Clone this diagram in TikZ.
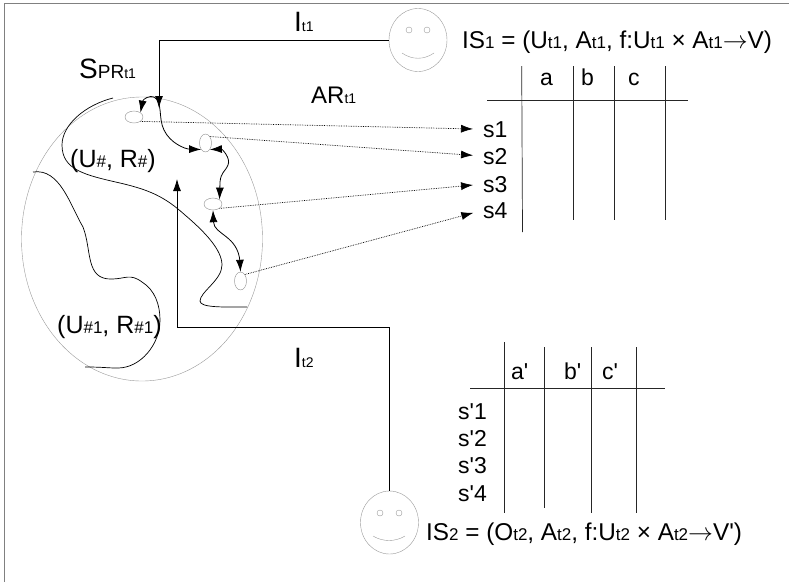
\documentclass[tikz,border=0pt]{standalone}
\usepackage{fontspec}
\setmainfont{Liberation Sans}
\usetikzlibrary{arrows.meta,shapes.geometric}
\newcommand{\fs}[1]{\fontsize{#1}{#1}\selectfont}
\newcommand{\sm}[1]{{\fs{17}#1}}
\newcommand{\smr}[1]{{\fs{14}#1}}
\newcommand{\pr}{\textquotesingle}
\tikzset{
    lab/.style={anchor=base west,inner sep=0pt,text=black,font=\fs{23}},
    face/.style={draw=gray!80,ellipse,minimum width=58pt,minimum height=63pt,inner sep=0pt},
    eye/.style={draw=gray!80,circle,minimum size=6pt,inner sep=0pt},
    blob/.style={draw=gray!90,ellipse,inner sep=0pt},
    wide/.style={blob,minimum width=18pt,minimum height=12pt},
    tall/.style={blob,minimum width=12pt,minimum height=18pt},
    tip/.style={-{Latex[length=12pt,width=8pt]}},
    both/.style={{Latex[length=12pt,width=8pt]}-{Latex[length=12pt,width=8pt]},line width=.8pt},
    link/.style={tip,line width=.8pt},
    ref/.style={tip,densely dotted,line width=.7pt,shorten >=10pt},
    rule/.style={line width=.7pt,black!85}
}
\begin{document}
\begin{tikzpicture}[x=1pt,y=-1pt]
    \useasboundingbox (0,0) rectangle (789,582);
    \draw[gray,line width=.8pt] (4,582) -- (4,3) -- (789,3);
    % space
    \node[draw=gray!80,ellipse,minimum width=241pt,minimum height=284pt,inner sep=0pt] (space) at (142,239) {};
    \node[wide] (blob1) at (134,117) {};
    \node[tall] (blob2) at (205.5,143) {};
    \node[wide] (blob3) at (213,204) {};
    \node[tall] (blob4) at (240.5,281) {};
    \draw[line width=.7pt] (113,98) .. controls (85,105) and (62,125) .. (62,145)
        .. controls (62,170) and (85,175) .. (120,183)
        .. controls (150,190) and (165,197) .. (185,215)
        .. controls (205,232) and (222,250) .. (222,265)
        .. controls (222,280) and (200,292) .. (200,301)
        .. controls (200,308) and (225,307) .. (247,307);
    \draw[line width=.7pt] (33,172) .. controls (60,168) and (70,205) .. (83,227)
        .. controls (92,250) and (85,280) .. (112,279)
        .. controls (125,279) and (130,273) .. (142,282)
        .. controls (155,290) and (160,305) .. (160,320)
        .. controls (160,345) and (140,368) .. (118,368)
        .. controls (105,368) and (105,367) .. (85,367);
    \draw[both] (blob1.north east) .. controls (143,99) and (150,95) .. (154,97)
        .. controls (163,102) and (158,118) .. (164,130)
        .. controls (170,143) and (185,149) .. (blob2.south west);
    \draw[both] (blob2.south east) .. controls (222,149) and (231,158) .. (228,165)
        .. controls (225,172) and (221,172) .. (220,182) -- (blob3.north east);
    \draw[both] (blob3.south) .. controls (214,235) and (238,235) .. (240,262) -- (blob4.north);
    % observers
    \node[face] (face1) at (418,40) {};
    \node[eye] (eye1) at (409,30) {};
    \node[eye] (eye2) at (427,30) {};
    \draw[gray!80] (402,53) .. controls (412,60) and (424,60) .. (434,53);
    \node[face] (face2) at (389.5,522.5) {};
    \node[eye] (eye3) at (380,513) {};
    \node[eye] (eye4) at (399,513) {};
    \draw[gray!80] (373,536) .. controls (383,542) and (395,542) .. (405,536);
    \coordinate (in1) at (159,108);
    \coordinate (in2) at (177,179);
    \draw[link] (face1.west) -| (in1);
    \draw[link] (face2.north) |- (177,327) -- (in2);
    % labels
    \node[lab,font=\fs{28}] (it1) at (294,31) {I\smr{t1}};
    \node[lab,font=\fs{28}] (it2) at (294,367) {I\smr{t2}};
    \node[lab,font=\fs{28}] (spr) at (79,78) {S{\fs{19}PR\smr{t1}}};
    \node[lab,font=\fs{24}] (art1) at (311,103) {AR\smr{t1}};
    \node[lab,font=\fs{25}] (un) at (70,167) {(U\sm{\#}, R\sm{\#})};
    \node[lab,font=\fs{25}] (un1) at (57,333) {(U\sm{\#1}, R\sm{\#1})};
    \node[lab,font=\fs{24.3}] (is1) at (462,48) {IS\sm{1} = (U\sm{t1}, A\sm{t1}, f:U\sm{t1} × A\sm{t1}$\rightarrow$V)};
    \node[lab,font=\fs{24.3}] (is2) at (426,540) {IS\sm{2} = (O\sm{t2}, A\sm{t2}, f:U\sm{t2} × A\sm{t2}$\rightarrow$V\pr)};
    % first table
    \draw[rule] (487,100) -- (688,100);
    \draw[rule] (521.7,66) -- (522.5,232);
    \foreach \x in {573,614.5,665}
        \draw[rule] (\x,66) -- (\x,220);
    \node[lab] (a) at (540,85) {a};
    \node[lab] (b) at (581,85) {b};
    \node[lab] (c) at (628,85) {c};
    \node[lab] (s1) at (483,137) {s1};
    \node[lab] (s2) at (483,164) {s2};
    \node[lab] (s3) at (483,192) {s3};
    \node[lab] (s4) at (483,218) {s4};
    \draw[ref] (blob1.south east) -- (s1.west);
    \draw[ref] (blob2.north east) -- (s2.west);
    \draw[ref] (blob3.south east) -- (s3.west);
    \draw[ref] (blob4.north east) -- (s4.west);
    % second table
    \draw[rule] (470,388) -- (665,388);
    \draw[rule] (504,342) -- (504,513);
    \draw[rule] (544,347) -- (544,508);
    \foreach \x in {591,636}
        \draw[rule] (\x,347) -- (\x,513);
    \node[lab] (a2) at (511,379) {a\pr};
    \node[lab] (b2) at (564,379) {b\pr};
    \node[lab] (c2) at (602,379) {c\pr};
    \node[lab] (sp1) at (458,419) {s\pr1};
    \node[lab] (sp2) at (458,446) {s\pr2};
    \node[lab] (sp3) at (458,473) {s\pr3};
    \node[lab] (sp4) at (458,501) {s\pr4};
\end{tikzpicture}
\end{document}
